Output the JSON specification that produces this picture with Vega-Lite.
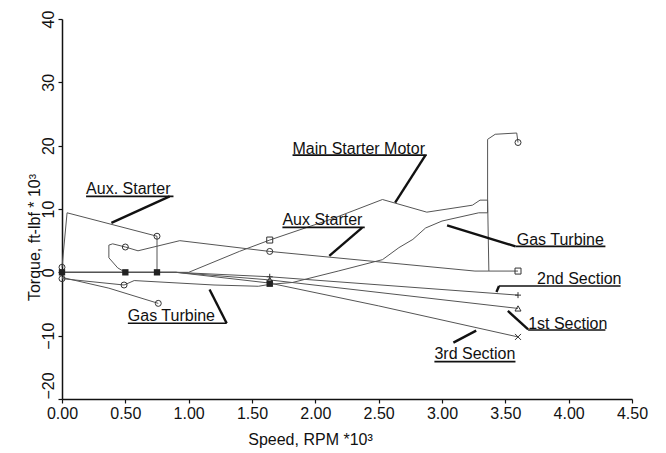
{
  "$schema": "https://vega.github.io/schema/vega-lite/v6.json",
  "autosize": {"type": "none"},
  "padding": {"left": 62, "top": 19, "right": 34, "bottom": 54},
  "width": 570,
  "height": 380,
  "background": "white",
  "config": {
    "font": "Liberation Sans",
    "view": {"stroke": null}
  },
  "datasets": {
    "curves": [
      {"series": "aux_left", "i": 1, "x": 0.0, "y": 0.8},
      {"series": "aux_left", "i": 2, "x": 0.04, "y": 9.4},
      {"series": "aux_left", "i": 3, "x": 0.75, "y": 5.7},
      {"series": "aux_left", "i": 4, "x": 0.75, "y": 0.0},

      {"series": "aux", "i": 1, "x": 0.5, "y": 0.0},
      {"series": "aux", "i": 2, "x": 0.44, "y": 0.7},
      {"series": "aux", "i": 3, "x": 0.37, "y": 2.3},
      {"series": "aux", "i": 4, "x": 0.37, "y": 4.3},
      {"series": "aux", "i": 5, "x": 0.4, "y": 4.5},
      {"series": "aux", "i": 6, "x": 0.5, "y": 4.0},
      {"series": "aux", "i": 7, "x": 0.6, "y": 3.4},
      {"series": "aux", "i": 8, "x": 0.93, "y": 5.0},
      {"series": "aux", "i": 9, "x": 1.64, "y": 3.3},
      {"series": "aux", "i": 10, "x": 3.26, "y": 0.2},
      {"series": "aux", "i": 11, "x": 3.37, "y": 0.2},

      {"series": "msm", "i": 1, "x": 0.0, "y": 0.0},
      {"series": "msm", "i": 2, "x": 0.5, "y": 0.0},
      {"series": "msm", "i": 3, "x": 0.75, "y": 0.0},
      {"series": "msm", "i": 4, "x": 1.0, "y": 0.0},
      {"series": "msm", "i": 5, "x": 1.4, "y": 3.3},
      {"series": "msm", "i": 6, "x": 1.64, "y": 5.1},
      {"series": "msm", "i": 7, "x": 2.14, "y": 8.5},
      {"series": "msm", "i": 8, "x": 2.53, "y": 11.5},
      {"series": "msm", "i": 9, "x": 2.88, "y": 9.5},
      {"series": "msm", "i": 10, "x": 3.24, "y": 10.6},
      {"series": "msm", "i": 11, "x": 3.3, "y": 11.4},
      {"series": "msm", "i": 12, "x": 3.36, "y": 11.4},
      {"series": "msm", "i": 13, "x": 3.37, "y": 0.2},
      {"series": "msm", "i": 14, "x": 3.6, "y": 0.2},

      {"series": "gt", "i": 1, "x": 0.0, "y": -1.0},
      {"series": "gt", "i": 2, "x": 0.49, "y": -2.0},
      {"series": "gt", "i": 3, "x": 0.57, "y": -1.3},
      {"series": "gt", "i": 4, "x": 1.2, "y": -2.0},
      {"series": "gt", "i": 5, "x": 1.55, "y": -2.2},
      {"series": "gt", "i": 6, "x": 1.64, "y": -1.9},
      {"series": "gt", "i": 7, "x": 1.82, "y": -1.6},
      {"series": "gt", "i": 8, "x": 2.18, "y": 0.2},
      {"series": "gt", "i": 9, "x": 2.53, "y": 2.0},
      {"series": "gt", "i": 10, "x": 2.66, "y": 3.9},
      {"series": "gt", "i": 11, "x": 2.77, "y": 5.2},
      {"series": "gt", "i": 12, "x": 2.87, "y": 7.0},
      {"series": "gt", "i": 13, "x": 3.0, "y": 8.1},
      {"series": "gt", "i": 14, "x": 3.29, "y": 9.4},
      {"series": "gt", "i": 15, "x": 3.36, "y": 9.4},
      {"series": "gt", "i": 16, "x": 3.36, "y": 21.0},
      {"series": "gt", "i": 17, "x": 3.42, "y": 21.8},
      {"series": "gt", "i": 18, "x": 3.59, "y": 22.0},
      {"series": "gt", "i": 19, "x": 3.6, "y": 20.5},

      {"series": "gt_low", "i": 1, "x": 0.0, "y": -0.8},
      {"series": "gt_low", "i": 2, "x": 0.37, "y": -2.5},
      {"series": "gt_low", "i": 3, "x": 0.76, "y": -4.9},

      {"series": "s2", "i": 1, "x": 0.0, "y": 0.0},
      {"series": "s2", "i": 2, "x": 0.9, "y": 0.0},
      {"series": "s2", "i": 3, "x": 1.64, "y": -0.7},
      {"series": "s2", "i": 4, "x": 3.6, "y": -3.6},

      {"series": "s1", "i": 1, "x": 0.0, "y": 0.0},
      {"series": "s1", "i": 2, "x": 0.9, "y": 0.0},
      {"series": "s1", "i": 3, "x": 1.64, "y": -1.2},
      {"series": "s1", "i": 4, "x": 3.6, "y": -5.7},

      {"series": "s3", "i": 1, "x": 0.0, "y": 0.0},
      {"series": "s3", "i": 2, "x": 0.9, "y": 0.0},
      {"series": "s3", "i": 3, "x": 1.64, "y": -1.7},
      {"series": "s3", "i": 4, "x": 2.5, "y": -5.3},
      {"series": "s3", "i": 5, "x": 3.6, "y": -10.2}
    ],
    "markers": [
      {"marker": "circle", "x": 0.0, "y": 0.8},
      {"marker": "circle", "x": 0.0, "y": -1.0},
      {"marker": "circle", "x": 0.75, "y": 5.7},
      {"marker": "circle", "x": 0.5, "y": 4.0},
      {"marker": "circle", "x": 1.64, "y": 3.3},
      {"marker": "circle", "x": 0.49, "y": -2.0},
      {"marker": "circle", "x": 0.76, "y": -4.9},
      {"marker": "circle", "x": 3.6, "y": 20.5},
      {"marker": "square", "x": 1.64, "y": 5.1},
      {"marker": "square", "x": 3.6, "y": 0.2},
      {"marker": "plus", "x": 1.64, "y": -0.7},
      {"marker": "plus", "x": 3.6, "y": -3.6},
      {"marker": "triangle", "x": 1.64, "y": -1.2},
      {"marker": "triangle", "x": 3.6, "y": -5.7},
      {"marker": "cross", "x": 1.64, "y": -1.7},
      {"marker": "cross", "x": 3.6, "y": -10.2}
    ],
    "solid": [
      {"x": 0.0, "y": 0.0},
      {"x": 0.5, "y": 0.0},
      {"x": 0.75, "y": 0.0},
      {"x": 1.64, "y": -1.8}
    ],
    "labels": [
      {"text": "Aux. Starter", "x": 0.19, "y": 12.3},
      {"text": "Main Starter Motor", "x": 1.82, "y": 18.75},
      {"text": "Aux Starter", "x": 1.74, "y": 7.4},
      {"text": "Gas Turbine", "x": 3.59, "y": 4.3},
      {"text": "2nd Section", "x": 3.75, "y": -1.9},
      {"text": "1st Section", "x": 3.68, "y": -8.9},
      {"text": "3rd Section", "x": 2.94, "y": -13.7},
      {"text": "Gas Turbine", "x": 0.52, "y": -7.7}
    ],
    "underlines": [
      {"x": 0.19, "x2": 0.88, "y": 12.0},
      {"x": 1.82, "x2": 2.88, "y": 18.5},
      {"x": 1.74, "x2": 2.39, "y": 7.1},
      {"x": 3.58, "x2": 4.29, "y": 4.1},
      {"x": 3.45, "x2": 4.41, "y": -2.15},
      {"x": 3.68, "x2": 4.29, "y": -9.1},
      {"x": 2.94, "x2": 3.58, "y": -14.1},
      {"x": 0.52, "x2": 1.3, "y": -8.05}
    ],
    "leaders": [
      {"x": 0.85, "y": 12.0, "x2": 0.39, "y2": 7.8},
      {"x": 2.87, "y": 18.5, "x2": 2.63, "y2": 11.0},
      {"x": 2.37, "y": 7.05, "x2": 2.11, "y2": 2.6},
      {"x": 3.58, "y": 4.1, "x2": 3.04, "y2": 7.4},
      {"x": 3.45, "y": -2.15, "x2": 3.43, "y2": -3.1},
      {"x": 3.68, "y": -9.0, "x2": 3.52, "y2": -6.1},
      {"x": 3.09, "y": -11.1, "x2": 3.27, "y2": -9.2},
      {"x": 1.3, "y": -8.05, "x2": 1.165, "y2": -2.7}
    ]
  },
  "encoding": {
    "x": {
      "field": "x",
      "type": "quantitative",
      "scale": {"domain": [0, 4.5], "nice": false, "zero": false},
      "axis": {
        "title": "Speed, RPM *10³",
        "values": [0, 0.5, 1, 1.5, 2, 2.5, 3, 3.5, 4, 4.5],
        "format": ".2f",
        "grid": false,
        "domainColor": "#111",
        "domainWidth": 1.5,
        "tickColor": "#111",
        "tickWidth": 1.2,
        "tickSize": 4,
        "labelFontSize": 16,
        "labelColor": "#111",
        "labelPadding": 2,
        "labelDx": 4,
        "labelFlush": false,
        "labelOverlap": false,
        "titleFontSize": 16,
        "titleFontWeight": "normal",
        "titleColor": "#111",
        "titleX": 248,
        "titleY": 45,
        "titleAlign": "center",
        "titleBaseline": "alphabetic"
      }
    },
    "y": {
      "field": "y",
      "type": "quantitative",
      "scale": {"domain": [-20, 40], "nice": false, "zero": false},
      "axis": {
        "title": "Torque, ft-lbf * 10³",
        "values": [-20, -10, 0, 10, 20, 30, 40],
        "grid": false,
        "domainColor": "#111",
        "domainWidth": 1.5,
        "tickColor": "#111",
        "tickWidth": 1.2,
        "tickSize": 4,
        "labelFontSize": 16,
        "labelColor": "#111",
        "labelAngle": -90,
        "labelAlign": {"expr": "datum.value == -20 ? 'left' : 'center'"},
        "labelBaseline": "alphabetic",
        "labelPadding": 5,
        "labelFlush": false,
        "labelOverlap": false,
        "titleFontSize": 16,
        "titleFontWeight": "normal",
        "titleColor": "#111",
        "titleAngle": -90,
        "titleX": -23,
        "titleY": 218,
        "titleAlign": "center",
        "titleBaseline": "alphabetic"
      }
    }
  },
  "layer": [
    {
      "data": {"name": "curves"},
      "mark": {"type": "line", "color": "#555", "strokeWidth": 1},
      "encoding": {
        "detail": {"field": "series", "type": "nominal"},
        "order": {"field": "i", "type": "quantitative"}
      }
    },
    {
      "data": {"name": "markers"},
      "mark": {"type": "point", "filled": false, "size": 36, "strokeWidth": 1, "color": "#333", "opacity": 1},
      "encoding": {
        "shape": {
          "field": "marker",
          "type": "nominal",
          "scale": {
            "domain": ["circle", "square", "triangle", "plus", "cross"],
            "range": ["circle", "square", "triangle-up", "M-1,0L1,0M0,-1L0,1", "M-1,-1L1,1M-1,1L1,-1"]
          },
          "legend": null
        }
      }
    },
    {
      "data": {"name": "solid"},
      "mark": {"type": "square", "size": 40, "color": "#222", "opacity": 1}
    },
    {
      "data": {"name": "underlines"},
      "mark": {"type": "rule", "color": "#111", "strokeWidth": 1.6},
      "encoding": {
        "x2": {"field": "x2"}
      }
    },
    {
      "data": {"name": "leaders"},
      "mark": {"type": "rule", "color": "#111", "strokeWidth": 2.4},
      "encoding": {
        "x2": {"field": "x2"},
        "y2": {"field": "y2"}
      }
    },
    {
      "data": {"name": "labels"},
      "mark": {"type": "text", "align": "left", "baseline": "alphabetic", "fontSize": 16, "color": "#111"},
      "encoding": {
        "text": {"field": "text", "type": "nominal"}
      }
    }
  ]
}
